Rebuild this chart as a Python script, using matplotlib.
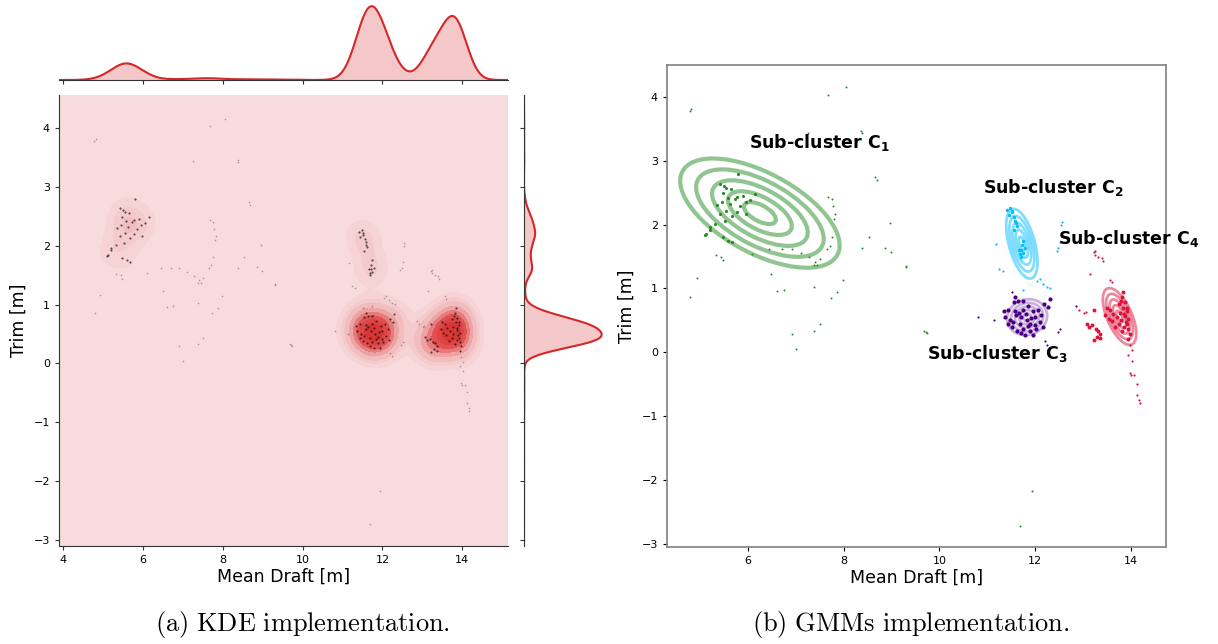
import numpy as np
import matplotlib.pyplot as plt
from matplotlib.patches import Ellipse
from matplotlib.colors import LinearSegmentedColormap

# Mean draft [m] / trim [m]
# sub-cluster C1 (green) dense part and its scattered points
c1_x = [5.42, 5.55, 5.65, 5.48, 5.62, 5.55, 5.42, 5.77, 5.90, 6.04, 6.14, 5.84, 5.97, 5.80, 5.20, 5.13,
        5.31, 5.66, 5.20, 5.10, 5.48, 5.66, 5.59, 5.50, 5.58, 5.72, 5.45, 5.35, 5.95, 5.78, 5.52]
c1_y = [2.64, 2.58, 2.55, 2.49, 2.32, 2.22, 2.17, 2.44, 2.45, 2.39, 2.48, 2.29, 2.17, 2.79, 1.96, 1.85,
        2.01, 2.13, 1.92, 1.83, 1.80, 1.72, 1.75, 2.60, 2.42, 2.40, 2.35, 2.30, 2.35, 2.20, 2.05]
green_stray_x = [4.78, 4.82, 7.67, 8.05, 8.37, 8.39, 7.25, 8.66, 8.69, 8.96, 8.52, 7.68, 7.75, 7.78, 7.82,
                 7.80, 5.33, 5.44, 5.48, 4.93, 4.79, 6.09, 6.44, 6.71, 6.91, 7.10, 7.27, 7.41, 7.51, 7.65,
                 7.71, 7.75, 7.37, 7.44, 6.49, 6.60, 6.75, 7.37, 7.99, 7.87, 7.73, 8.38, 8.86, 8.99, 9.30,
                 9.31, 7.51, 7.38, 6.91, 7.01, 9.68, 9.71, 9.73, 11.94, 11.68]
green_stray_y = [3.78, 3.81, 4.03, 4.15, 3.46, 3.43, 3.44, 2.74, 2.70, 2.02, 1.81, 2.43, 2.40, 2.29, 2.17,
                 2.09, 1.52, 1.50, 1.44, 1.16, 0.86, 1.54, 1.62, 1.62, 1.62, 1.55, 1.49, 1.41, 1.46, 1.62,
                 1.67, 1.81, 1.36, 1.36, 1.23, 0.96, 0.98, 1.03, 1.14, 0.94, 0.85, 1.63, 1.64, 1.57, 1.35,
                 1.33, 0.44, 0.33, 0.29, 0.05, 0.33, 0.31, 0.30, -2.17, -2.72]

# sub-cluster C2 (blue)
c2_x = [11.41, 11.48, 11.51, 11.56, 11.58, 11.61, 11.55, 11.71, 11.75, 11.68, 11.78, 11.75, 11.72, 11.70,
        11.66, 11.45, 11.52, 11.60]
c2_y = [2.23, 2.26, 2.19, 2.12, 2.06, 1.98, 1.91, 1.61, 1.56, 1.54, 1.63, 1.75, 1.68, 1.50,
        1.60, 2.15, 2.22, 2.02]
cyan_stray_x = [11.25, 11.32, 11.17, 12.03, 12.10, 12.16, 12.24, 12.31, 11.75, 12.55, 12.53, 12.52, 12.48, 12.45]
cyan_stray_y = [1.31, 1.28, 1.70, 1.12, 1.15, 1.07, 1.03, 1.01, 0.97, 2.04, 2.00, 1.72, 1.63, 1.59]

# sub-cluster C3 (purple)
c3_x = [11.58, 11.55, 11.44, 11.34, 11.37, 11.47, 11.60, 11.75, 11.85, 11.96, 12.06, 12.13, 12.09, 12.16,
        12.02, 11.89, 11.75, 11.62, 11.51, 11.44, 11.68, 11.82, 11.92, 11.71, 11.54, 11.85, 11.99, 11.78,
        11.95, 11.64, 11.75, 12.19, 12.30, 12.26, 11.65, 11.80, 11.90, 11.58, 12.00, 11.70]
c3_y = [0.86, 0.79, 0.67, 0.64, 0.55, 0.50, 0.58, 0.67, 0.72, 0.64, 0.67, 0.58, 0.47, 0.40,
        0.36, 0.34, 0.36, 0.34, 0.39, 0.44, 0.44, 0.50, 0.53, 0.55, 0.47, 0.41, 0.42, 0.27,
        0.27, 0.81, 0.81, 0.76, 0.84, 0.71, 0.62, 0.60, 0.45, 0.65, 0.55, 0.30]
purple_stray_x = [12.51, 12.47, 12.20, 12.24, 11.13, 10.80, 12.86, 11.52]
purple_stray_y = [0.37, 0.32, 0.17, 0.12, 0.50, 0.56, 0.72, 0.95]

# sub-cluster C4 (red)
c4_x = [13.84, 13.81, 13.88, 13.84, 13.91, 13.88, 13.94, 13.91, 13.94, 13.98, 13.94, 13.77, 13.70, 13.63,
        13.57, 13.53, 13.60, 13.74, 13.81, 13.67, 13.50, 13.46, 13.74, 13.12, 13.19, 13.26, 13.32, 13.36,
        13.29, 13.22, 13.36, 13.22, 13.07, 13.86, 13.90, 13.80, 13.86, 13.92, 13.78]
c4_y = [0.94, 0.86, 0.78, 0.70, 0.65, 0.57, 0.52, 0.44, 0.36, 0.29, 0.21, 0.62, 0.55, 0.60,
        0.67, 0.52, 0.49, 0.44, 0.33, 0.39, 0.70, 0.58, 0.75, 0.40, 0.42, 0.37, 0.34, 0.29,
        0.24, 0.20, 0.22, 0.67, 0.45, 0.60, 0.48, 0.80, 0.40, 0.70, 0.50]
red_stray_x = [13.22, 13.25, 13.32, 13.39, 13.41, 13.24, 13.14, 13.57, 13.60, 12.91, 13.02, 13.05, 13.98,
               14.03, 13.94, 14.01, 13.98, 14.00, 14.06, 14.13, 14.13, 14.17, 14.18]
red_stray_y = [1.57, 1.53, 1.50, 1.48, 1.43, 1.59, 1.23, 1.14, 1.10, 0.67, 0.62, 0.63, 0.11,
               0.03, -0.05, -0.13, -0.33, -0.36, -0.36, -0.49, -0.67, -0.75, -0.80]

# relative weight of each point in the density estimate (dense cores vs strays)
c1_weight = 7
c2_weight = 8
c3_weight = 20
c4_weight = 22
stray_weight = 1

# fitted Gaussian components (mean, covariance)
c1_mean = [6.25, 2.18]
c1_cov = [[0.1109, -0.0336], [-0.0336, 0.0293]]
c2_mean = [11.72, 1.70]
c2_cov = [[0.00428, -0.00370], [-0.00370, 0.01192]]
c3_mean = [11.83, 0.55]
c3_cov = [[0.00699, 0.0004], [0.0004, 0.00316]]
c4_mean = [13.76, 0.56]
c4_cov = [[0.00488, -0.00374], [-0.00374, 0.00793]]

red = '#d62728'

# ---------- combine for the density estimate ----------
groups = [(c1_x, c1_y, c1_weight), (c2_x, c2_y, c2_weight), (c3_x, c3_y, c3_weight),
          (c4_x, c4_y, c4_weight), (green_stray_x, green_stray_y, stray_weight),
          (cyan_stray_x, cyan_stray_y, stray_weight), (purple_stray_x, purple_stray_y, stray_weight),
          (red_stray_x, red_stray_y, stray_weight)]
all_x = np.concatenate([np.array(g[0]) for g in groups])
all_y = np.concatenate([np.array(g[1]) for g in groups])
all_w = np.concatenate([np.full(len(g[0]), g[2], dtype=float) for g in groups])

xlim_a = (3.89, 15.15)
ylim_a = (-3.1, 4.56)
bw_x, bw_y = 0.3, 0.2

xs = np.linspace(xlim_a[0], xlim_a[1], 350)
ys = np.linspace(ylim_a[0], ylim_a[1], 350)
X, Y = np.meshgrid(xs, ys)
Z = np.zeros_like(X)
for px, py, w in zip(all_x, all_y, all_w):
    Z += w * np.exp(-0.5 * (((X - px) / bw_x) ** 2 + ((Y - py) / bw_y) ** 2))

# iso-proportion levels
vals = np.sort(Z.ravel())[::-1]
cum = np.cumsum(vals) / vals.sum()
props = np.linspace(0, 1, 10)
levels = np.take(vals, np.searchsorted(cum, 1 - props), mode='clip')
levels[0] = Z.min()
levels[-1] = Z.max()
levels = np.unique(levels)

cmap = LinearSegmentedColormap.from_list('kde', ['#f8dfe1', '#f0b3b5', '#e05050', '#d83030'])

fig = plt.figure(figsize=(12.18, 6.44), dpi=100)

# ---------- (a) KDE ----------
ax_main = fig.add_axes([59 / 1218, 98 / 644, 449 / 1218, 451 / 644])
ax_top = fig.add_axes([59 / 1218, 564 / 644, 449 / 1218, 76 / 644])
ax_right = fig.add_axes([524 / 1218, 98 / 644, 80 / 1218, 451 / 644])

ax_main.contourf(X, Y, Z, levels=levels, cmap=cmap)
ax_main.scatter(all_x, all_y, s=1.5, color='k', alpha=0.3, linewidths=0)
core_x = c1_x + c2_x + c3_x + c4_x
core_y = c1_y + c2_y + c3_y + c4_y
ax_main.scatter(core_x, core_y, s=2.5, color='k', alpha=0.5, linewidths=0)
ax_main.set_xlim(xlim_a)
ax_main.set_ylim(ylim_a)
ax_main.set_xticks(range(4, 15, 2))
ax_main.set_yticks(range(-3, 5))
ax_main.tick_params(labelsize=8, color='#333333', length=3)
for s in ['top', 'right']:
    ax_main.spines[s].set_visible(False)
for s in ['left', 'bottom']:
    ax_main.spines[s].set_color('#333333')
ax_main.set_xlabel('Mean Draft [m]', fontsize=12.5, labelpad=2)
ax_main.set_ylabel('Trim [m]', fontsize=12.5)

# marginal densities
bwx1, bwy1 = 0.28, 0.1
xg = np.linspace(xlim_a[0], xlim_a[1], 500)
dens_x = (all_w[None, :] * np.exp(-0.5 * ((xg[:, None] - all_x[None, :]) / bwx1) ** 2)).sum(1)
yg = np.linspace(ylim_a[0], ylim_a[1], 500)
dens_y = (all_w[None, :] * np.exp(-0.5 * ((yg[:, None] - all_y[None, :]) / bwy1) ** 2)).sum(1)

ax_top.fill_between(xg, dens_x, color=red, alpha=0.25, lw=0)
ax_top.plot(xg, dens_x, color=red, lw=1.5)
ax_top.set_xlim(xlim_a)
ax_top.set_ylim(0, dens_x.max() * 1.03)
ax_top.set_xticks(range(4, 15, 2))
ax_top.tick_params(labelbottom=False, left=False, labelleft=False, color='#333333', length=3)
for s in ['top', 'right', 'left']:
    ax_top.spines[s].set_visible(False)
ax_top.spines['bottom'].set_color('#333333')

ax_right.fill_betweenx(yg, dens_y, color=red, alpha=0.25, lw=0)
ax_right.plot(dens_y, yg, color=red, lw=1.5)
ax_right.set_ylim(ylim_a)
ax_right.set_xlim(0, dens_y.max() * 1.03)
ax_right.set_yticks(range(-3, 5))
ax_right.tick_params(labelleft=False, bottom=False, labelbottom=False, color='#333333', length=3)
for s in ['top', 'right', 'bottom']:
    ax_right.spines[s].set_visible(False)
ax_right.spines['left'].set_color('#333333')

# ---------- (b) GMMs ----------
ax_gmm = fig.add_axes([667 / 1218, 97 / 644, 499 / 1218, 482 / 644])


def draw_ellipse(ax, mean, cov, color, alpha, lw):
    ev, evec = np.linalg.eigh(np.array(cov))
    angle = np.degrees(np.arctan2(evec[1, 1], evec[0, 1]))
    w, h = 2 * np.sqrt(ev[1]), 2 * np.sqrt(ev[0])
    for nsig in range(1, 6):
        ax.add_patch(Ellipse(mean, nsig * w, nsig * h, angle=angle, fill=False,
                             edgecolor=color, alpha=alpha, lw=lw))


draw_ellipse(ax_gmm, c1_mean, c1_cov, 'forestgreen', 0.5, 3)
draw_ellipse(ax_gmm, c2_mean, c2_cov, 'deepskyblue', 0.5, 2)
draw_ellipse(ax_gmm, c3_mean, c3_cov, 'indigo', 0.3, 2)
draw_ellipse(ax_gmm, c4_mean, c4_cov, 'crimson', 0.5, 2)

ax_gmm.scatter(green_stray_x, green_stray_y, s=2, color='forestgreen', linewidths=0)
ax_gmm.scatter(c1_x, c1_y, s=5, color='forestgreen', linewidths=0)
ax_gmm.scatter(cyan_stray_x, cyan_stray_y, s=2.5, color='deepskyblue', linewidths=0)
ax_gmm.scatter(c2_x, c2_y, s=6, color='deepskyblue', linewidths=0)
ax_gmm.scatter(purple_stray_x, purple_stray_y, s=2.5, color='indigo', linewidths=0)
ax_gmm.scatter(c3_x, c3_y, s=9, color='indigo', linewidths=0)
ax_gmm.scatter(red_stray_x, red_stray_y, s=2.5, color='crimson', linewidths=0)
ax_gmm.scatter(c4_x, c4_y, s=8, color='crimson', linewidths=0)

label_kw = dict(fontsize=12.5, fontweight='bold', va='center')
ax_gmm.text(6.03, 3.29, r'Sub-cluster $\mathbf{C_1}$', **label_kw)
ax_gmm.text(10.90, 2.58, r'Sub-cluster $\mathbf{C_2}$', **label_kw)
ax_gmm.text(9.73, -0.02, r'Sub-cluster $\mathbf{C_3}$', **label_kw)
ax_gmm.text(12.48, 1.78, r'Sub-cluster $\mathbf{C_4}$', **label_kw)

ax_gmm.set_xlim(4.31, 14.73)
ax_gmm.set_ylim(-3.05, 4.5)
ax_gmm.set_xticks(range(6, 15, 2))
ax_gmm.set_yticks(range(-3, 5))
ax_gmm.tick_params(labelsize=8, length=3)
for s in ax_gmm.spines.values():
    s.set_color('#808080')
    s.set_linewidth(1.2)
ax_gmm.set_xlabel('Mean Draft [m]', fontsize=12.5, labelpad=2)
ax_gmm.set_ylabel('Trim [m]', fontsize=12.5)

# captions
fig.text(0.248, 0.03, r'$\mathrm{(a)\ KDE\ implementation.}$', math_fontfamily='cm',
         fontsize=19, ha='center', va='center')
fig.text(0.748, 0.03, r'$\mathrm{(b)\ GMMs\ implementation.}$', math_fontfamily='cm',
         fontsize=19, ha='center', va='center')

fig.savefig('out.png', dpi=100)
